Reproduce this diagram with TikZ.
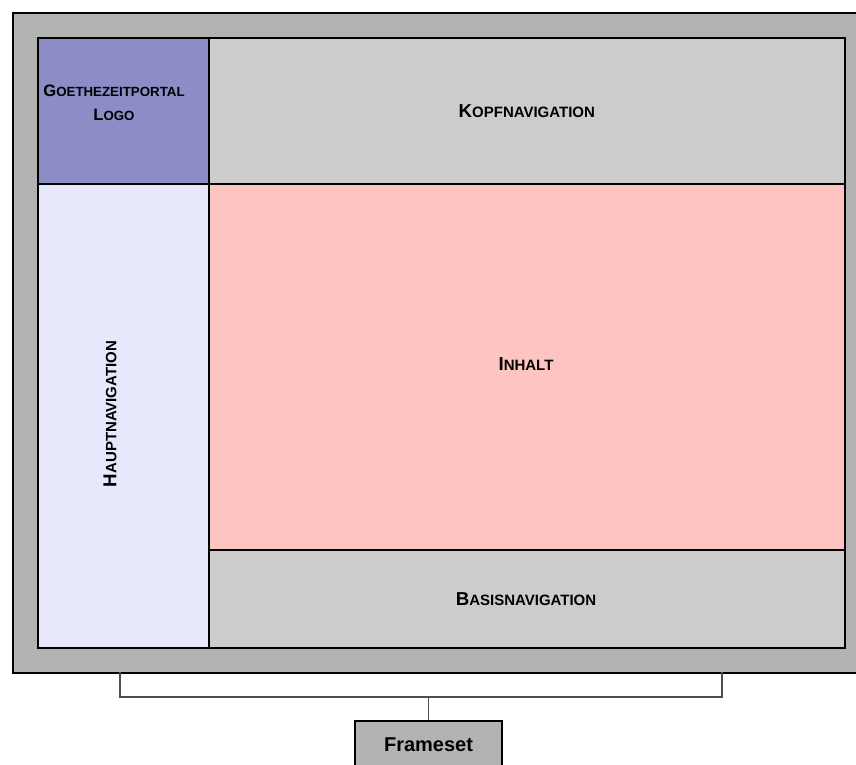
\documentclass[tikz,border=0pt]{standalone}
\usepackage{fontspec}
\setmainfont{Liberation Sans}
\definecolor{framegray}{HTML}{B3B3B3}
\definecolor{navgray}{HTML}{CCCCCC}
\definecolor{logoblue}{HTML}{8C8CC6}
\definecolor{mainnav}{HTML}{E8E8FC}
\definecolor{content}{HTML}{FDC4C1}
\definecolor{linkgray}{HTML}{4D4D4D}
% fake small caps: first letter large, rest smaller
\newcommand\sclabel[4]{{\fontsize{#1}{#1}\selectfont #3}{\fontsize{#2}{#2}\selectfont #4}}
\newcommand\biglabel[2]{\sclabel{18.7}{15}{#1}{#2}}
\begin{document}
\begin{tikzpicture}[x=1pt,y=-1pt,
  region/.style={draw=black,line width=1.6pt,inner sep=0pt,anchor=north west},
  caption/.style={font=\bfseries,inner sep=0pt,text=black},
  link/.style={draw=linkgray,line width=1.3pt}]
\useasboundingbox (0,0) rectangle (856,764);
\clip (0,0) rectangle (856,764);
% outer frameset border
\node[region,fill=framegray,minimum width=857pt,minimum height=660pt] (frame) at (12,12) {};
% frames
\node[region,fill=logoblue,minimum width=171pt,minimum height=146pt] (logo) at (37,37) {};
\node[region,fill=navgray,minimum width=636pt,minimum height=146pt] (kopf) at (208,37) {};
\node[region,fill=mainnav,minimum width=171pt,minimum height=464pt] (haupt) at (37,183) {};
\node[region,fill=content,minimum width=636pt,minimum height=366pt] (inhalt) at (208,183) {};
\node[region,fill=navgray,minimum width=636pt,minimum height=98pt] (basis) at (208,549) {};
% labels
\node[caption,align=center,font=\bfseries\fontsize{16.6}{23.3}\selectfont] (logotext) at (114,102.8)
  {\sclabel{16.6}{13.3}{G}{OETHEZEITPORTAL}\\\sclabel{16.6}{13.3}{L}{OGO}};
\node[caption] (kopftext) at (kopf.center) {\biglabel{K}{OPFNAVIGATION}};
\node[caption] (inhalttext) at (526,364.5) {\biglabel{I}{NHALT}};
\node[caption] (basistext) at (526,599) {\biglabel{B}{ASISNAVIGATION}};
\node[caption,rotate=90] (haupttext) at (110,414) {\biglabel{H}{AUPTNAVIGATION}};
% frameset box and its bracket
\node[draw=black,line width=1.3pt,fill=framegray,minimum width=147pt,minimum height=47pt,
  inner sep=0pt,font=\bfseries\fontsize{20}{20}\selectfont] (frameset) at (428.5,744.5) {Frameset};
\coordinate (bl) at (120,672);
\coordinate (br) at (722,672);
\coordinate (mid) at (428.5,697);
\draw[link] (bl) |- (mid) -| (br);
\draw[link] (mid) -- (frameset.north);
\end{tikzpicture}
\end{document}
